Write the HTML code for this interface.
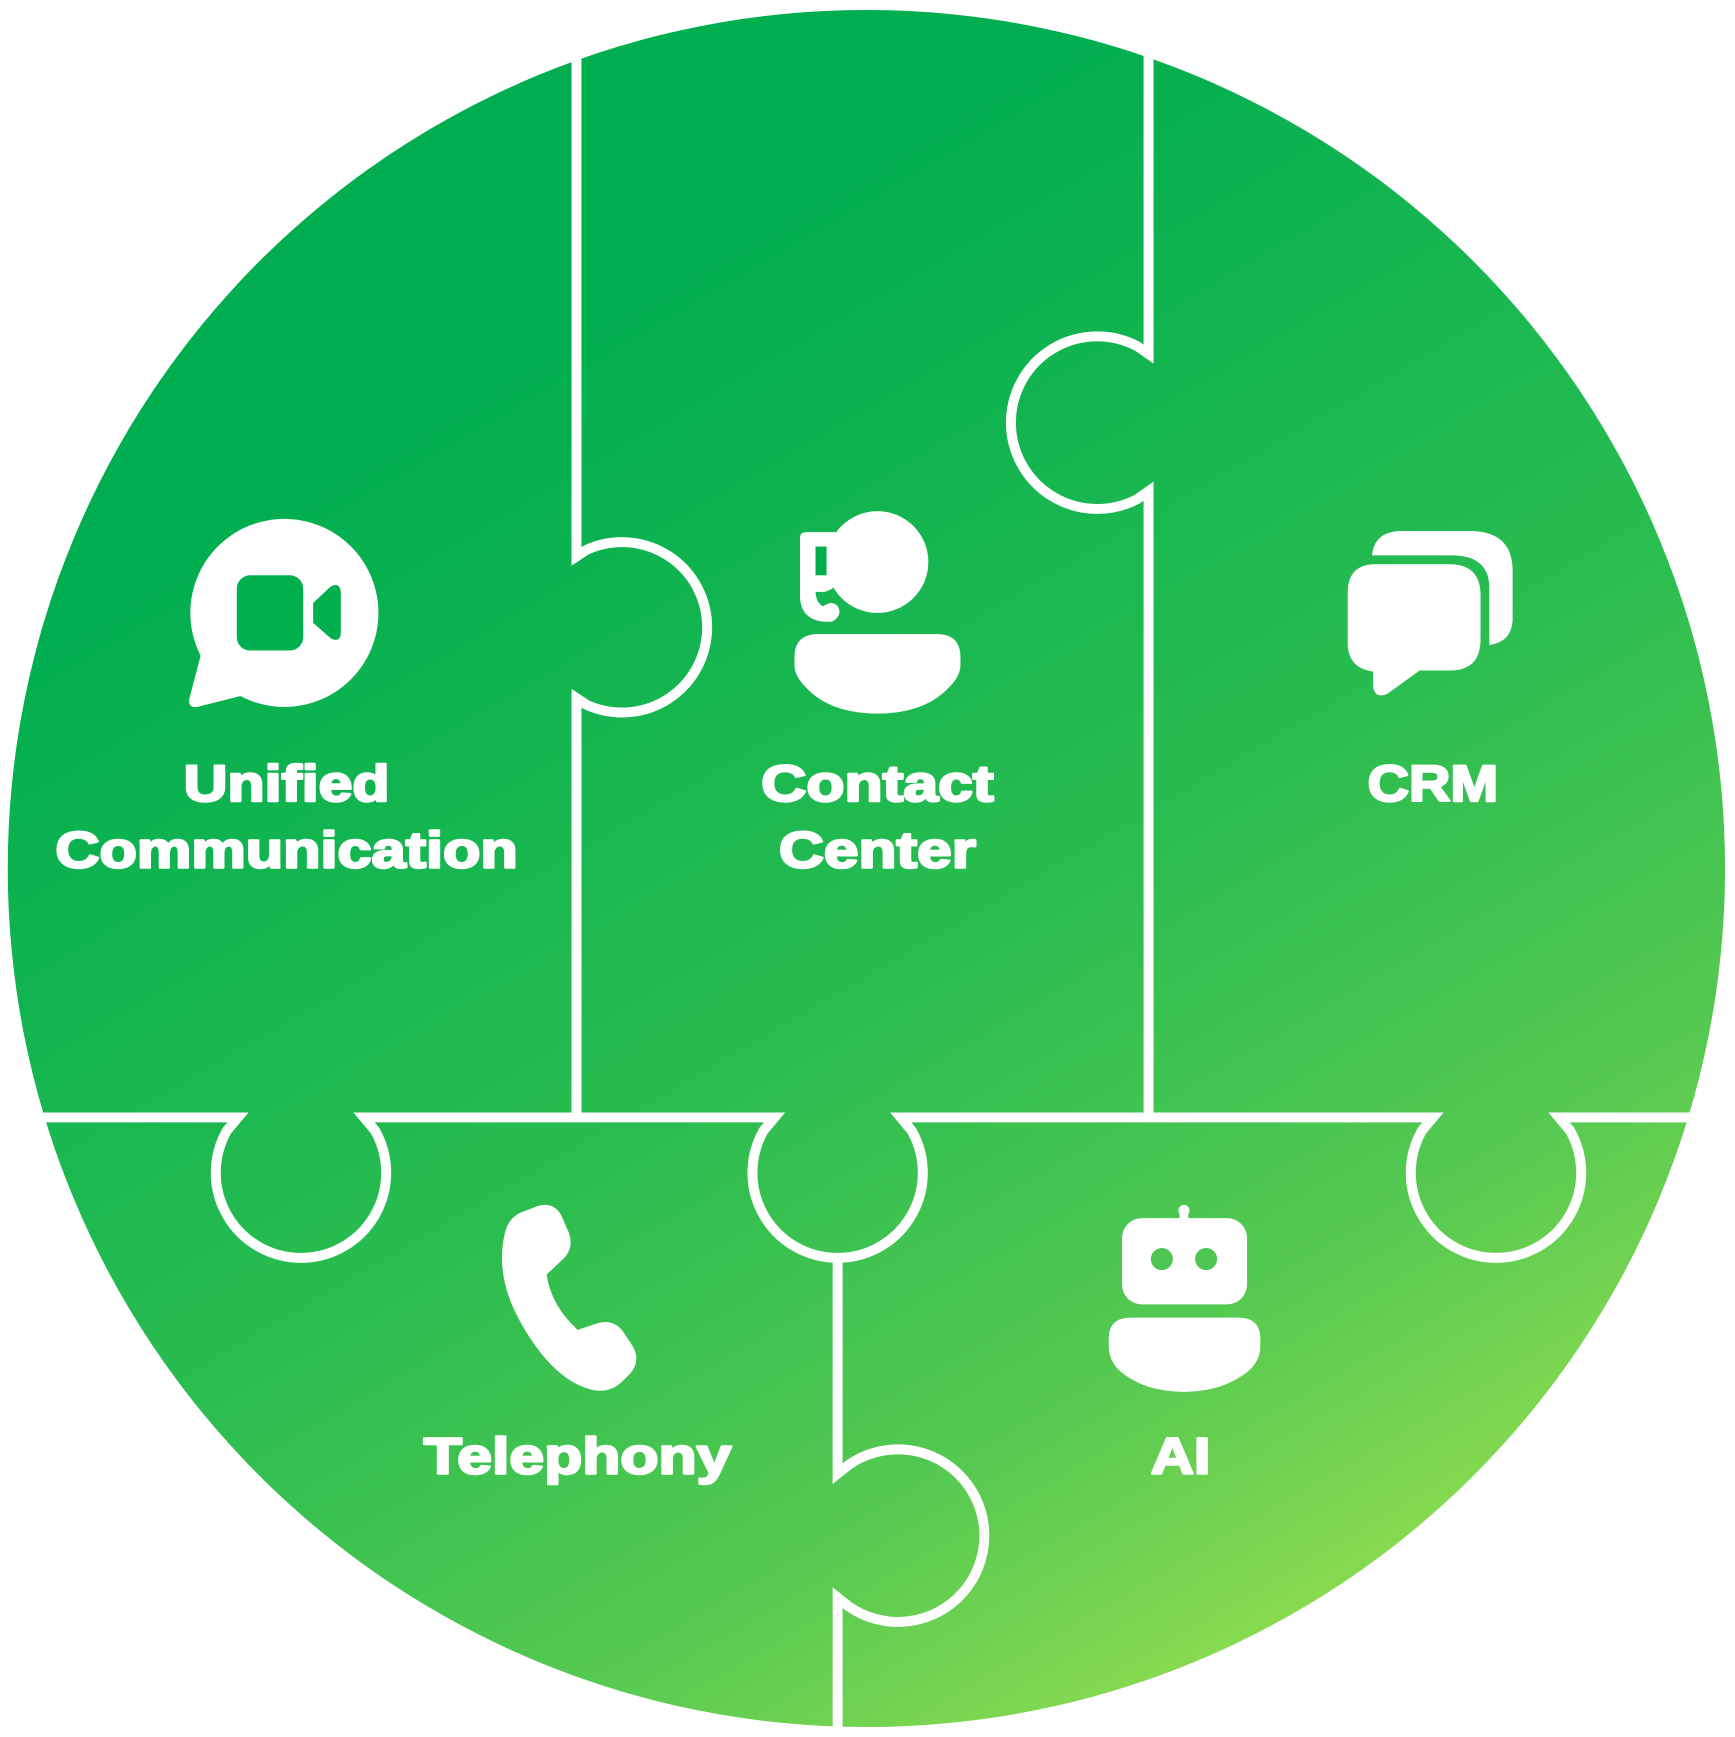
<!DOCTYPE html>
<html><head><meta charset="utf-8"><style>
html,body{margin:0;padding:0;background:#fff;}
svg{display:block;}
text{font-family:"Liberation Sans",Arial,sans-serif;font-weight:bold;fill:#fff;stroke:#fff;stroke-width:2.2;stroke-linejoin:round;}
</style></head><body>
<svg width="1735" height="1737" viewBox="0 0 1568 1570" preserveAspectRatio="none" xmlns="http://www.w3.org/2000/svg">
<defs>
<linearGradient id="g" gradientUnits="userSpaceOnUse" x1="500" y1="300" x2="1250" y2="1580">
<stop offset="0" stop-color="#00AE4F"/>
<stop offset="0.45" stop-color="#2ABD50"/>
<stop offset="0.72" stop-color="#55C951"/>
<stop offset="1" stop-color="#A3E450"/>
</linearGradient>
<clipPath id="c"><circle cx="783" cy="785" r="776"/></clipPath>
</defs>
<circle cx="783" cy="785" r="776" fill="url(#g)"/>
<g clip-path="url(#c)" fill="none" stroke="#fff" stroke-width="9">
<path d="M521,0 V503 L530,497 A77,77 0 1 1 530,637 L521,631 V1010"/>
<path d="M1038,0 V320 L1028,313 A78,78 0 1 0 1028,451 L1038,444 V1010"/>
<path d="M757,1140 V1332 L767,1324 A78,78 0 1 1 767,1452 L757,1444 V1570"/>
<path d="M0,1010 H215 L205,1022 A77,77 0 1 0 339,1022 L329,1010 H700 L690,1022 A77,77 0 1 0 824,1022 L814,1010 H1295 L1285,1022 A77,77 0 1 0 1419,1022 L1409,1010 H1568"/>
</g>
<g fill="#fff">
<circle cx="257" cy="554" r="85"/>
<path d="M182,590 L171,632 Q170,640 178,639 L222,628 Z"/>
</g>
<rect x="214" y="520" width="60" height="68" rx="12" fill="#02AF4F"/>
<path d="M283,545 L299,530 Q307,526 308,535 V573 Q307,581 299,577 L283,563 Z" fill="#02AF4F"/>
<g fill="#fff">
<circle cx="793" cy="508" r="46"/>
<path d="M723,486 Q723,481 729,481 H760 V521 Q757,532 745,535 L737,535 Q738,546 744,548 Q752,542 757,548 Q762,556 752,562 H745 Q724,560 723,540 Z"/>
<path d="M718,594 Q718,573 740,573 H846 Q868,573 868,594 V601 Q868,611 858,621 Q836,645 793,645 Q750,645 728,621 Q718,611 718,601 Z"/>
</g>
<rect x="737" y="494" width="10" height="26" fill="#02AF4F"/>
<g fill="#fff">
<path d="M1240,502 Q1242,481 1265,480 H1330 Q1366,481 1367,514 V561 Q1366,580 1346,583 V530 Q1345,502 1312,502 Z"/>
<path d="M1241,510 H1312 Q1337,511 1338,536 V580 Q1337,605 1312,606 H1283 L1254,627 Q1243,632 1241,621 V607 Q1219,604 1218,583 V534 Q1219,511 1241,510 Z"/>
</g>
<path fill="#fff" d="M473,1095 L486,1090 Q500,1086 507,1098 L514,1114 Q519,1128 509,1138 L494,1152 Q498,1180 522,1202 L540,1196 Q553,1192 562,1202 L572,1217 Q579,1230 570,1241 L562,1249 Q548,1262 528,1254 Q498,1243 472,1198 Q447,1155 456,1116 Q459,1100 473,1095 Z"/>
<g fill="#fff">
<rect x="1066" y="1095" width="8" height="12"/>
<circle cx="1070" cy="1094" r="5"/>
<rect x="1014" y="1101" width="113" height="78" rx="18"/>
<path d="M1002,1210 Q1002,1191 1022,1191 H1119 Q1139,1191 1139,1210 V1217 Q1139,1234 1120,1245 Q1100,1258 1070,1258 Q1040,1258 1020,1245 Q1002,1234 1002,1217 Z"/>
</g>
<circle cx="1050" cy="1138" r="10" fill="#4FC651"/>
<circle cx="1090" cy="1138" r="10" fill="#4FC651"/>
<text x="259" y="724" font-size="46" text-anchor="middle" textLength="186" lengthAdjust="spacingAndGlyphs">Unified</text>
<text x="259" y="784" font-size="46" text-anchor="middle" textLength="418" lengthAdjust="spacingAndGlyphs">Communication</text>
<text x="793" y="724" font-size="46" text-anchor="middle" textLength="210" lengthAdjust="spacingAndGlyphs">Contact</text>
<text x="793" y="784" font-size="46" text-anchor="middle" textLength="178" lengthAdjust="spacingAndGlyphs">Center</text>
<text x="1295" y="724" font-size="46" text-anchor="middle" textLength="118" lengthAdjust="spacingAndGlyphs">CRM</text>
<text x="522" y="1332" font-size="46" text-anchor="middle" textLength="278" lengthAdjust="spacingAndGlyphs">Telephony</text>
<text x="1067" y="1332" font-size="46" text-anchor="middle" textLength="54" lengthAdjust="spacingAndGlyphs">AI</text>
</svg>
</body></html>
